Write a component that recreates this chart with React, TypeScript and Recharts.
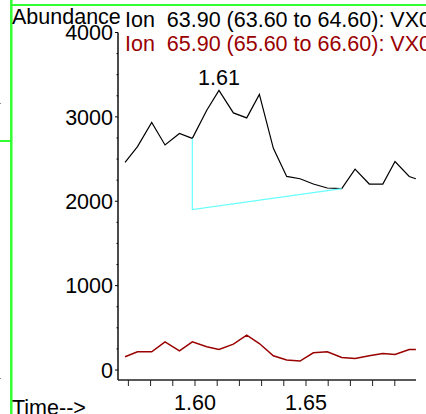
import { LineChart, Line, XAxis, YAxis, ReferenceDot } from "recharts";

// retention times (min) and abundances
const times = [
  1.5685, 1.5741, 1.5805, 1.5865, 1.593, 1.5988, 1.6053, 1.6108, 1.6173, 1.6233, 1.629, 1.6353,
  1.6413, 1.6473, 1.6533, 1.6596, 1.6661, 1.6721, 1.6785, 1.6846, 1.6901, 1.6965, 1.6995,
];
const ion639 = [
  2462, 2647, 2933, 2667, 2804, 2745, 3078, 3314, 3047, 2988, 3267, 2627,
  2294, 2267, 2204, 2157, 2149, 2380, 2204, 2204, 2471, 2294, 2267,
];
const ion659 = [
  157, 216, 216, 333, 227, 333, 275, 243, 306, 412, 314, 169,
  118, 106, 204, 216, 149, 137, 169, 196, 184, 243, 243,
];
// integration baseline drawn under the peak
const baseline = [
  { t: 1.5988, v: 2745 },
  { t: 1.5988, v: 1902 },
  { t: 1.6661, v: 2149 },
];
const peakLabel = { t: 1.6108, v: 3314, text: "1.61" };

const xTicks = [1.57, 1.58, 1.59, 1.6, 1.61, 1.62, 1.63, 1.64, 1.65, 1.66, 1.67, 1.68, 1.69];
const xLabels = ["1.60", "1.65"];
const yTicks = [0, 250, 500, 750, 1000, 1250, 1500, 1750, 2000, 2250, 2500, 2750, 3000, 3250, 3500, 3750, 4000];

const title1 = "Ion  63.90 (63.60 to 64.60): VX0";
const title2 = "Ion  65.90 (65.60 to 66.60): VX0";

const data = times.map((t, i) => ({ t, a: ion639[i], b: ion659[i] }));

const FONT = "'Liberation Sans', Arial, sans-serif";
const FS = 21.5;
const RED = "#990000";

function YTick(props: any) {
  const { x, y, payload } = props;
  const major = payload.value % 1000 === 0;
  const ax = x + 5;
  return (
    <g>
      <line x1={ax - (major ? 3 : 1.5)} x2={ax} y1={y} y2={y} stroke="#000" strokeWidth={1} />
      {major && (
        <text x={x} y={y} dy="0.355em" textAnchor="end" fontSize={FS} fontFamily={FONT} fill="#000">
          {payload.value}
        </text>
      )}
    </g>
  );
}

export default function App() {
  return (
    <div style={{ position: "fixed", left: 0, top: 0, width: 426, height: 414, overflow: "hidden", background: "#fff" }}>
      <LineChart width={426} height={414} data={data} margin={{ top: 32.5, right: 10, bottom: 0, left: 0 }}>
        <XAxis
          dataKey="t"
          type="number"
          domain={[1.56532, 1.69955]}
          allowDataOverflow
          ticks={xTicks}
          tickFormatter={(v: number) => {
            const s = v.toFixed(2);
            return xLabels.includes(s) ? s : "";
          }}
          height={34}
          tickSize={6}
          tickMargin={9}
          interval={0}
          axisLine={{ stroke: "#222", strokeWidth: 1.5 }}
          tickLine={{ stroke: "#222" }}
          tick={{ fontSize: FS, fill: "#000", fontFamily: FONT }}
        />
        <YAxis
          type="number"
          domain={[-118.5, 4000]}
          allowDataOverflow
          ticks={yTicks}
          interval={0}
          width={118}
          tickSize={3}
          tickMargin={2}
          tickLine={false}
          axisLine={{ stroke: "#111", strokeWidth: 1.5 }}
          tick={<YTick />}
        />
        <Line dataKey="a" stroke="#000" strokeWidth={1.2} dot={false} isAnimationActive={false} />
        <Line dataKey="b" stroke={RED} strokeWidth={1.5} dot={false} isAnimationActive={false} />
        <Line
          data={baseline}
          dataKey="v"
          stroke="#66ffff"
          strokeWidth={1.2}
          dot={false}
          isAnimationActive={false}
        />
        <ReferenceDot
          x={peakLabel.t}
          y={peakLabel.v}
          r={0}
          stroke="none"
          fill="none"
          label={{ value: peakLabel.text, position: "top", offset: 5, fontSize: FS, fill: "#000", fontFamily: FONT }}
        />
      </LineChart>
      <svg
        width={426}
        height={414}
        style={{ position: "absolute", left: 0, top: 0, pointerEvents: "none" }}
        fontFamily={FONT}
        fontSize={FS}
      >
        <line x1={11.3} x2={11.3} y1={0} y2={414} stroke="#33ff33" strokeWidth={2.5} />
        <line x1={11} x2={426} y1={5} y2={5} stroke="#33ff33" strokeWidth={2} />
        <line x1={0} x2={11} y1={141} y2={141} stroke="#33ff33" strokeWidth={2} />
        <rect x={0} y={103} width={1} height={1} fill="#888" />
        <rect x={0} y={378} width={1} height={1} fill="#888" />
        <text x={12} y={23.5} fill="#000">Abundance</text>
        <text x={125} y={27.3} fill="#000" style={{ whiteSpace: "pre" }}>{title1}</text>
        <text x={125} y={50.5} fill={RED} style={{ whiteSpace: "pre" }}>{title2}</text>
        <text x={12} y={415} fill="#000">Time--&gt;</text>
      </svg>
    </div>
  );
}
